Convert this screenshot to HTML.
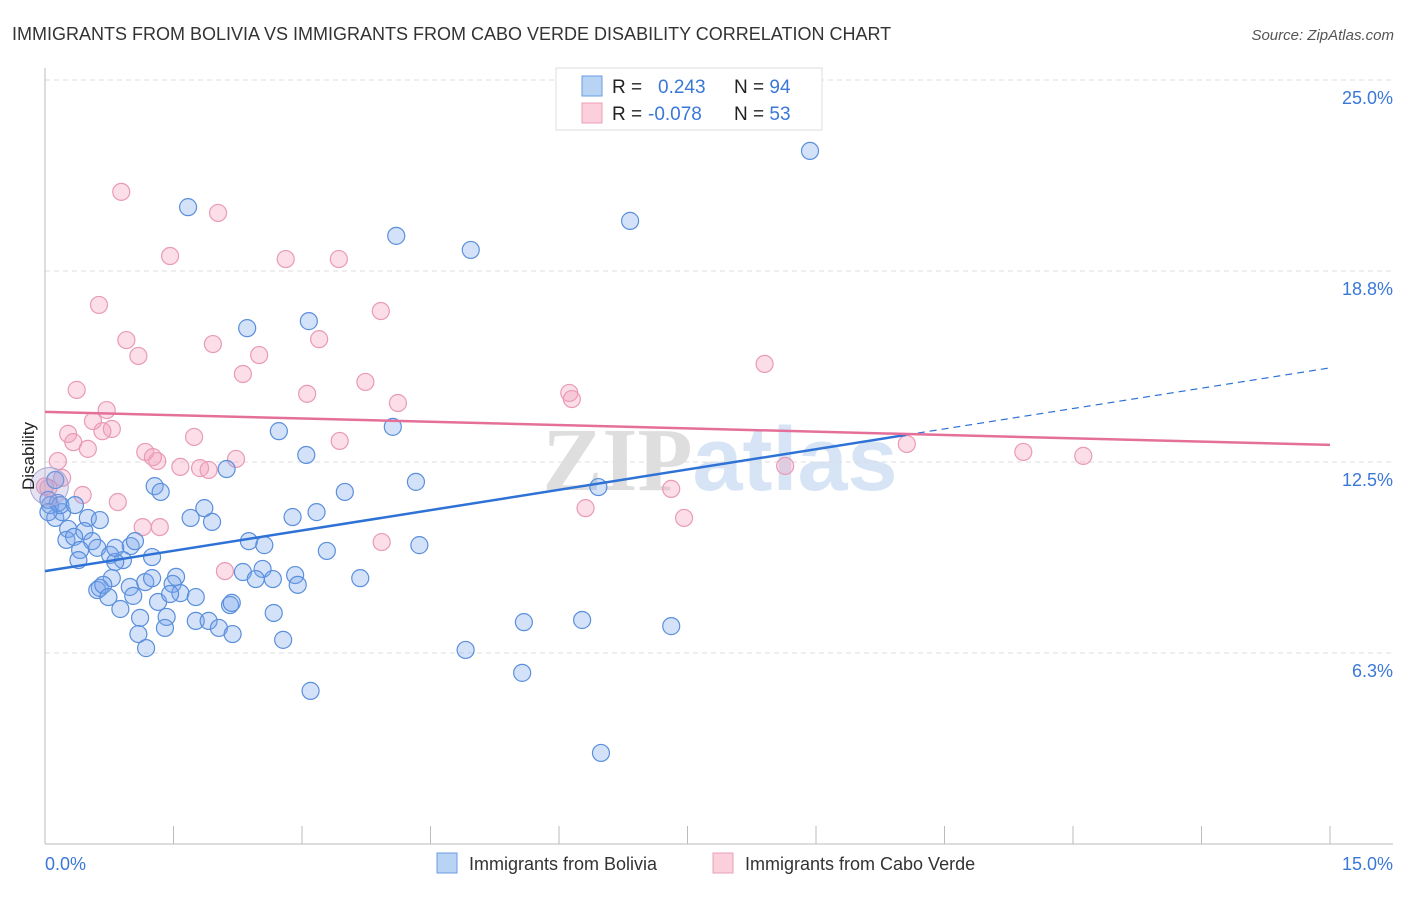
<!DOCTYPE html>
<html><head><meta charset="utf-8"><style>
body{margin:0;background:#fff;font-family:"Liberation Sans",sans-serif;}
svg text{font-family:"Liberation Sans",sans-serif;}
</style></head><body>
<svg width="1406" height="892" viewBox="0 0 1406 892">
<text x="12" y="40" font-size="18" fill="#333">IMMIGRANTS FROM BOLIVIA VS IMMIGRANTS FROM CABO VERDE DISABILITY CORRELATION CHART</text>
<text x="1394" y="40" font-size="15" fill="#555" font-style="italic" text-anchor="end">Source: ZipAtlas.com</text>
<text x="720" y="490" font-size="90" fill="#e6e6e6" text-anchor="middle" font-weight="bold"><tspan font-family="Liberation Serif" fill="#dedede">ZIP</tspan><tspan fill="#d6e4f5">atlas</tspan></text>
<g id="grid"></g>
<g id="axes"></g>
<g id="pts"></g>
<g id="trend"></g>
<text x="34" y="456" font-size="17" fill="#222" text-anchor="middle" transform="rotate(-90 34 456)">Disability</text>
<text x="45" y="870" font-size="18" fill="#3a78d8">0.0%</text>
<text x="1393" y="870" font-size="18" fill="#3a78d8" text-anchor="end">15.0%</text>
<g>
<rect x="556" y="68" width="266" height="62" fill="#fff" stroke="#ddd"/>
<rect x="582" y="76" width="20" height="20" fill="#b9d3f5" stroke="#6b9be0"/>
<rect x="582" y="103" width="20" height="20" fill="#fbcfdc" stroke="#eaa0b9"/>
<text x="612" y="93" font-size="19" fill="#222">R = <tspan fill="#3a78d8" x="658">0.243</tspan><tspan fill="#222" x="734">N = </tspan><tspan fill="#3a78d8">94</tspan></text>
<text x="612" y="120" font-size="19" fill="#222">R = <tspan fill="#3a78d8" x="648">-0.078</tspan><tspan fill="#222" x="734">N = </tspan><tspan fill="#3a78d8">53</tspan></text>
</g>
<g>
<rect x="437" y="853" width="20" height="20" fill="#b9d3f5" stroke="#6b9be0"/>
<text x="469" y="870" font-size="18" fill="#333">Immigrants from Bolivia</text>
<rect x="713" y="853" width="20" height="20" fill="#fbcfdc" stroke="#eaa0b9"/>
<text x="745" y="870" font-size="18" fill="#333">Immigrants from Cabo Verde</text>
</g>
</svg>
<script>
const yTicks=[6.25,12.5,18.75,25];
const yTickLabels=["6.3%","12.5%","18.8%","25.0%"];
const xTicks=[0,1.5,3,4.5,6,7.5,9,10.5,12,13.5,15];
const boliviaX=[8.93,1.67,6.83,4.10,4.97,3.08,2.36,2.73,4.06,3.05,2.12,4.33,6.46,1.28,1.35,3.50,1.86,1.70,1.95,3.17,2.89,0.12,0.50,0.20,0.06,0.15,0.27,0.46,0.25,0.34,0.55,0.41,0.61,1.00,1.05,0.39,0.76,1.25,2.38,2.56,3.29,4.37,0.91,0.82,0.78,0.64,0.61,0.68,0.99,1.17,1.25,1.53,1.49,2.54,2.31,2.92,2.66,2.46,2.95,3.68,1.03,1.32,0.74,0.88,1.58,1.76,1.46,2.16,2.18,1.42,1.11,1.76,1.91,1.40,2.03,2.67,1.09,2.19,2.78,1.18,4.91,5.59,6.27,7.31,5.57,3.10,6.49,0.12,0.04,0.18,0.35,0.04,0.64,0.82];
const boliviaY=[22.68,20.84,20.39,19.90,19.44,17.11,16.88,13.51,13.65,12.73,12.27,11.85,11.68,11.71,11.52,11.52,10.99,10.67,10.54,10.86,10.70,10.67,10.67,10.86,11.09,11.16,10.31,10.24,9.95,10.05,9.91,9.62,9.69,9.75,9.91,9.29,9.46,9.39,9.91,9.78,9.59,9.78,9.29,9.23,8.70,8.38,8.31,8.48,8.41,8.57,8.70,8.74,8.51,9.00,8.90,8.80,8.67,8.67,8.48,8.70,8.12,7.92,8.08,7.69,8.21,8.08,8.18,7.82,7.89,7.43,7.40,7.30,7.30,7.07,7.07,7.56,6.87,6.87,6.68,6.41,6.35,7.26,7.33,7.13,5.60,5.01,2.98,11.91,11.26,11.09,11.09,10.86,10.60,9.69];
const caboX=[0.89,2.02,1.46,2.81,3.43,0.63,3.92,0.95,1.96,3.20,1.09,2.50,2.31,8.40,3.74,0.37,3.06,6.12,6.15,4.12,0.72,0.56,0.78,0.67,0.27,0.33,1.74,3.44,0.50,1.17,1.31,1.26,0.15,1.58,1.81,1.91,2.23,10.06,11.42,12.12,8.64,0.20,0.04,0.44,7.31,0.85,6.31,7.46,1.14,1.34,3.93,2.10,0.00];
const caboY=[21.34,20.65,19.24,19.14,19.14,17.64,17.44,16.49,16.36,16.52,15.97,16.00,15.38,15.71,15.12,14.86,14.73,14.76,14.56,14.43,14.20,13.84,13.58,13.51,13.42,13.15,13.32,13.19,12.93,12.83,12.53,12.66,12.53,12.34,12.30,12.24,12.60,13.09,12.83,12.70,12.37,11.98,11.65,11.42,11.62,11.19,10.99,10.67,10.37,10.37,9.88,8.93,11.70];
const boliviaTrend=[8.93,15.58];
const caboTrend=[14.14,13.06];
const NS="http://www.w3.org/2000/svg";
const X0=45,X1=1330,Y0=844,YS=30.56;
function sx(v){return X0+v/15*(X1-X0);}
function sy(v){return Y0-v*YS;}
function mk(tag,attrs,parent){const e=document.createElementNS(NS,tag);for(const k in attrs)e.setAttribute(k,attrs[k]);parent.appendChild(e);return e;}
const grid=document.getElementById('grid'),axes=document.getElementById('axes'),pts=document.getElementById('pts'),trend=document.getElementById('trend');
yTicks.forEach((t,i)=>{
 const l=mk('line',{x1:45,x2:1393,y1:sy(t),y2:sy(t),stroke:'#ddd','stroke-dasharray':'5,4'},grid);
 
 
 const tx=mk('text',{x:1393,y:sy(t)+24,'font-size':18,fill:'#3a78d8','text-anchor':'end'},grid);
 tx.textContent=yTickLabels[i];
 
 
});
const ya=mk('line',{x1:45,x2:45,y1:68,y2:844,stroke:'#bbb'},axes);


const xa=mk('line',{x1:45,x2:1393,y1:844,y2:844,stroke:'#bbb'},axes);


xTicks.forEach(t=>{
 const l=mk('line',{x1:sx(t),x2:sx(t),y1:826,y2:844,stroke:'#bbb'},axes);
 
 
});
function dots(xs,ys,fill,stroke,name){
 xs.forEach((x,i)=>{
  const c=mk('circle',{cx:sx(x),cy:sy(ys[i]),r:8.5,fill:fill,stroke:stroke,'stroke-width':1.2},pts);
  
  
 });
}
dots(caboX,caboY,'rgba(244,160,188,0.35)','#e99ab6','point-cabo-verde');
dots(boliviaX,boliviaY,'rgba(120,165,235,0.32)','#5a8fdc','point-bolivia');
const big=mk('circle',{cx:sx(0.05),cy:sy(11.7),r:19,fill:'rgba(170,160,210,0.3)',stroke:'#a9a9d8'},pts);


const bx=10.05;
const b1=mk('line',{x1:sx(0),y1:sy(boliviaTrend[0]),x2:sx(bx),y2:sy(boliviaTrend[0]+(boliviaTrend[1]-boliviaTrend[0])*bx/15),stroke:'#2f72d6','stroke-width':2.5},trend);


const b2=mk('line',{x1:sx(bx),y1:sy(boliviaTrend[0]+(boliviaTrend[1]-boliviaTrend[0])*bx/15),x2:sx(15),y2:sy(boliviaTrend[1]),stroke:'#2f72d6','stroke-width':1.2,'stroke-dasharray':'7,5'},trend);


const p1=mk('line',{x1:sx(0),y1:sy(caboTrend[0]),x2:sx(15),y2:sy(caboTrend[1]),stroke:'#e4709a','stroke-width':2.5},trend);


</script>
</body></html>
